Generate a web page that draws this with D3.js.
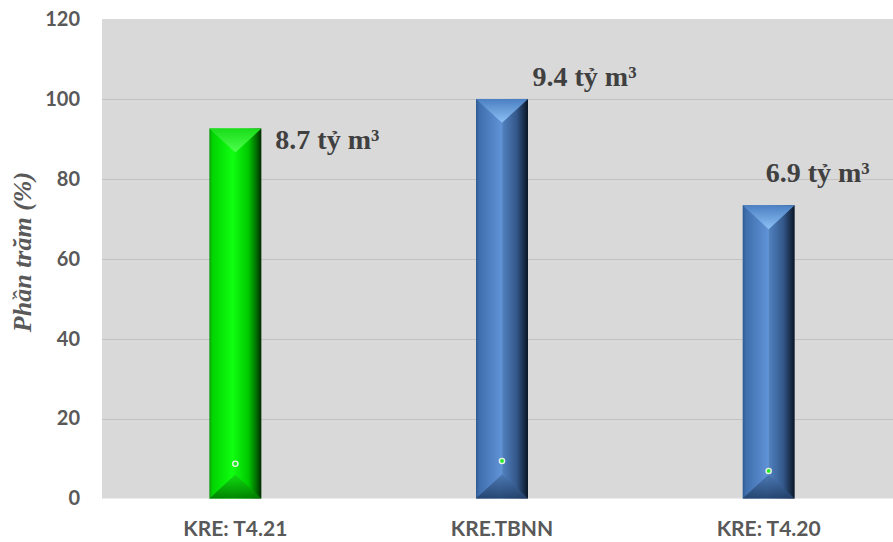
<!DOCTYPE html>
<html>
<head>
<meta charset="utf-8">
<script src="https://cdn.jsdelivr.net/npm/d3@7/dist/d3.min.js"></script>
<style>
  html, body { margin: 0; padding: 0; background: #ffffff; }
  svg { display: block; }
</style>
</head>
<body>
<svg id="chart" width="893" height="542"></svg>
<script>
// ---- data ----
const categories = ["KRE: T4.21", "KRE.TBNN", "KRE: T4.20"];
const percentValues = [92.6, 100, 73.4];
const volumeValues = [8.7, 9.4, 6.9];
const volumeLabels = ["8.7 tỷ m³", "9.4 tỷ m³", "6.9 tỷ m³"];
const barColors = ["green", "blue", "blue"];
const yTicks = [0, 20, 40, 60, 80, 100, 120];
const yTitle = "Phần trăm (%)";

// ---- layout ----
const W = 893, H = 542;
const plot = { left: 102, right: 902, top: 19, bottom: 498.5 };
const labelOffsets = [[40, 21], [30.5, -13], [-3, -23]]; // dx, dy of data labels

const svg = d3.select("#chart");
const defs = svg.append("defs");

const x = d3.scaleBand().domain(categories)
  .range([plot.left, plot.right]).paddingInner(0.805).paddingOuter(0.4025);
const y = d3.scaleLinear().domain([0, 120]).range([plot.bottom, plot.top]);

// palettes
const pal = {
  green: {
    body: [[0, "#129a12"], [0.06, "#00d400"], [0.45, "#10ff10"], [0.75, "#00c800"], [0.9, "#007000"], [1, "#002a00"]],
    top: [[0, "#19dd19"], [1, "#4dff4d"]],
    bot: [[0, "#10d810"], [1, "#007a00"]],
    seam: "rgba(255,255,255,0)"
  },
  blue: {
    body: [[0, "#2f5a92"], [0.06, "#3f6eac"], [0.48, "#5f92d6"], [0.52, "#4f7fbd"], [0.78, "#34588a"], [1, "#0a1626"]],
    top: [[0, "#4a7fc2"], [1, "#8ec1f5"]],
    bot: [[0, "#4a76b0"], [1, "#22406a"]],
    seam: "rgba(120,160,210,0.35)"
  }
};
Object.entries(pal).forEach(([k, p]) => {
  const gb = defs.append("linearGradient").attr("id", "body-" + k)
    .attr("x1", "0").attr("x2", "1").attr("y1", "0").attr("y2", "0");
  p.body.forEach(s => gb.append("stop").attr("offset", s[0]).attr("stop-color", s[1]));
  const gt = defs.append("linearGradient").attr("id", "top-" + k)
    .attr("x1", "0").attr("x2", "0").attr("y1", "0").attr("y2", "1");
  p.top.forEach(s => gt.append("stop").attr("offset", s[0]).attr("stop-color", s[1]));
  const gbo = defs.append("linearGradient").attr("id", "bot-" + k)
    .attr("x1", "0").attr("x2", "0").attr("y1", "0").attr("y2", "1");
  p.bot.forEach(s => gbo.append("stop").attr("offset", s[0]).attr("stop-color", s[1]));
});

// plot background
svg.append("rect")
  .attr("x", plot.left).attr("y", plot.top)
  .attr("width", W - plot.left).attr("height", plot.bottom - plot.top)
  .attr("fill", "#d9d9d9");

// gridlines
svg.append("g").selectAll("line").data(yTicks.filter(t => t > 0 && t < 120)).join("line")
  .attr("x1", plot.left).attr("x2", W)
  .attr("y1", d => Math.round(y(d)) + 0.5).attr("y2", d => Math.round(y(d)) + 0.5)
  .attr("stroke", "#c2c2c2").attr("stroke-width", 1.2);

// y axis tick labels
const yAxis = d3.axisLeft(y).tickValues(yTicks).tickSize(0).tickPadding(22);
const yg = svg.append("g").attr("transform", `translate(${plot.left},0)`).call(yAxis);
yg.select(".domain").remove();
yg.selectAll("text")
  .attr("font-family", "Lato, 'Liberation Sans', sans-serif")
  .attr("font-weight", "bold").attr("font-size", 20).attr("fill", "#595959");

// x axis labels
const xAxis = d3.axisBottom(x).tickSize(0).tickPadding(23);
const xg = svg.append("g").attr("transform", `translate(0,${plot.bottom})`).call(xAxis);
xg.select(".domain").remove();
xg.selectAll("text")
  .attr("font-family", "Lato, 'Liberation Sans', sans-serif")
  .attr("font-weight", "bold").attr("font-size", 21).attr("fill", "#595959");

// bars
const bars = svg.append("g").selectAll("g").data(categories).join("g");
bars.each(function (c, i) {
  const g = d3.select(this);
  const k = barColors[i];
  const x0 = x(c), bw = x.bandwidth(), x1 = x0 + bw, xc = x0 + bw / 2;
  const yt = y(percentValues[i]), yb = y(0);
  const bevel = bw * 0.46;
  g.append("rect").attr("x", x0).attr("y", yt).attr("width", bw).attr("height", yb - yt)
    .attr("fill", `url(#body-${k})`);
  g.append("line").attr("x1", xc).attr("x2", xc).attr("y1", yt + bevel).attr("y2", yb - bevel)
    .attr("stroke", pal[k].seam).attr("stroke-width", 1);
  g.append("path").attr("d", `M${x0},${yt}L${x1},${yt}L${xc},${yt + bevel}Z`)
    .attr("fill", `url(#top-${k})`);
  g.append("path").attr("d", `M${x0},${yb}L${xc},${yb - bevel}L${x1},${yb}Z`)
    .attr("fill", `url(#bot-${k})`).attr("opacity", 0.9);
});

// markers (volume series on same axis)
svg.append("g").selectAll("circle").data(categories).join("circle")
  .attr("cx", d => x(d) + x.bandwidth() / 2)
  .attr("cy", (d, i) => y(volumeValues[i]))
  .attr("r", 2.6)
  .attr("fill", "#22ee22").attr("stroke", "#e8f0e8").attr("stroke-width", 1.4);

// data labels
svg.append("g").selectAll("text").data(categories).join("text")
  .attr("x", (d, i) => x(d) + x.bandwidth() / 2 + labelOffsets[i][0])
  .attr("y", (d, i) => y(percentValues[i]) + labelOffsets[i][1])
  .attr("font-family", "'Liberation Serif', 'Times New Roman', serif")
  .attr("font-weight", "bold").attr("font-size", 28).attr("fill", "#404040")
  .text((d, i) => volumeLabels[i]);

// y title
svg.append("text")
  .attr("transform", `translate(31,252) rotate(-90)`)
  .attr("text-anchor", "middle")
  .attr("font-family", "'Liberation Serif', 'Times New Roman', serif")
  .attr("font-style", "italic").attr("font-weight", "bold")
  .attr("font-size", 26).attr("fill", "#595959")
  .text(yTitle);
</script>
</body>
</html>
